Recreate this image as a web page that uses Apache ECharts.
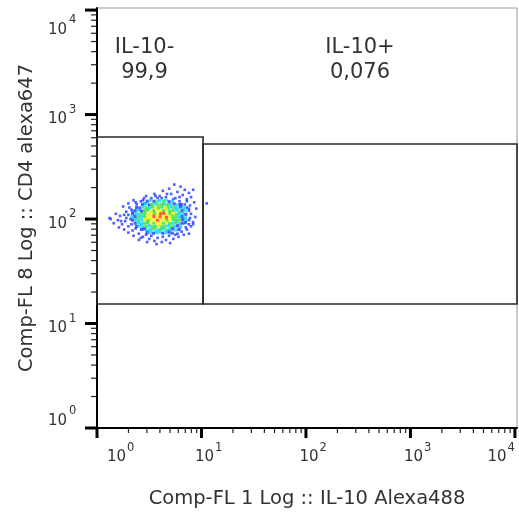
<!DOCTYPE html>
<html><head><meta charset="utf-8">
<script src="https://cdn.jsdelivr.net/npm/echarts@6/dist/echarts.min.js"></script>
<style>html,body{margin:0;padding:0;background:#fff}#c{width:519px;height:515px}</style>
</head><body><div id="c"></div>
<script>
// ---------- data ----------
const xAxisTitle = 'Comp-FL 1 Log :: IL-10 Alexa488';
const yAxisTitle = 'Comp-FL 8 Log :: CD4 alexa647';
const decadeExponents = ['0', '1', '2', '3', '4'];   // tick labels 10^n
const axisMinLog = 0, axisMaxLog = 4.02;              // log10 axis extent

const gateNames = ['IL-10-', 'IL-10+'];
const gateFreqs = ['99,9', '0,076'];
// gate bounds, raw intensity
const gateXMin = [1, 10.35];
const gateXMax = [10.35, 10471];
const gateYMin = [15.4, 15.4];
const gateYMax = [610, 523];
// gate label anchors, raw intensity
const gateLabelX = [2.85, 329];
const gateLabelY = [3360, 3360];

// sparse outer events, [log10 FL1, log10 FL8]
const eventsOuter = [
 [0.74,2.33],[0.80,2.31],[0.69,2.29],[0.84,2.28],[0.63,2.27],[0.77,2.26],[0.88,2.25],[0.55,2.24],[0.71,2.24],[0.82,2.23],
 [0.47,2.22],[0.60,2.22],[0.66,2.21],[0.90,2.21],[0.52,2.20],[0.75,2.20],[0.86,2.19],[0.92,2.28],
 [0.35,2.18],[0.42,2.17],[0.58,2.20],[0.79,2.17],[0.93,2.16],[0.30,2.15],[0.46,2.15],[0.84,2.14],[0.89,2.13],[0.25,2.12],
 [0.38,2.14],[0.95,2.10],[0.33,2.09],[0.86,2.11],[0.88,2.08],[0.28,2.07],
 [0.18,2.05],[0.22,2.03],[0.30,2.04],[0.90,2.05],[0.94,2.02],[0.13,2.00],[0.20,1.99],[0.27,1.98],[0.88,1.99],[0.92,1.97],
 [0.16,1.96],[0.24,1.95],[0.88,1.95],[0.90,1.93],[0.30,1.93],[0.21,1.92],[0.12,2.01],[0.92,1.95],
 [0.26,1.90],[0.34,1.89],[0.86,1.90],[0.81,1.88],[0.30,1.87],[0.40,1.86],[0.88,1.86],[0.35,1.84],[0.83,1.85],[0.44,1.83],
 [0.78,1.83],[0.50,1.81],[0.58,1.82],[0.66,1.80],[0.73,1.81],[0.40,1.80],[0.55,1.79],[0.62,1.78],[0.70,1.77],[0.48,1.78],
 [1.05,2.15],
 [0.32,2.00],[0.37,2.16],[0.45,2.20],[0.67,2.24],[0.73,2.19],[0.81,2.14],[0.89,2.01],[0.85,1.92],[0.77,1.86],[0.63,1.83],
 [0.47,1.85],[0.37,1.91],[0.28,2.01],[0.34,2.07],[0.56,2.22],[0.79,2.21],[0.88,2.10],[0.42,1.82],[0.57,1.76],[0.75,1.85],
 [0.31,2.11],[0.26,2.04],[0.23,1.98],[0.33,1.95],[0.52,1.84],[0.69,1.84],[0.86,2.17],[0.62,2.20],[0.44,2.18]
];

// dense core events, [log10 FL1, log10 FL8, density level 1..5]
const eventsCoreUpper = [
 [0.48,2.17,1],[0.51,2.18,2],[0.545,2.17,1],[0.57,2.165,3],[0.60,2.175,2],[0.635,2.17,3],[0.66,2.18,2],[0.69,2.165,1],[0.72,2.17,2],
 [0.435,2.14,1],[0.465,2.145,2],[0.50,2.135,1],[0.525,2.14,3],[0.555,2.145,2],[0.585,2.135,3],[0.62,2.14,3],[0.645,2.145,2],[0.675,2.135,3],[0.705,2.14,2],[0.74,2.145,1],[0.765,2.135,2],[0.795,2.14,1],
 [0.38,2.11,1],[0.41,2.105,1],[0.44,2.115,2],[0.47,2.11,3],[0.50,2.105,2],[0.53,2.115,3],[0.56,2.11,4],[0.59,2.105,3],[0.62,2.115,3],[0.65,2.11,4],[0.68,2.105,3],[0.71,2.115,2],[0.74,2.11,3],[0.77,2.105,2],[0.80,2.115,1],[0.83,2.11,2],
 [0.365,2.08,1],[0.395,2.085,2],[0.425,2.075,1],[0.455,2.08,3],[0.485,2.085,3],[0.515,2.075,4],[0.545,2.08,3],[0.575,2.085,4],[0.605,2.075,4],[0.635,2.08,3],[0.665,2.085,4],[0.695,2.075,3],[0.725,2.08,3],[0.755,2.085,2],[0.785,2.075,3],[0.815,2.08,1],[0.845,2.085,2],
 [0.34,2.05,1],[0.37,2.055,2],[0.40,2.045,2],[0.43,2.05,3],[0.46,2.055,3],[0.49,2.045,4],[0.52,2.05,4],[0.55,2.055,3],[0.58,2.045,4],[0.61,2.05,5],[0.64,2.055,5],[0.67,2.045,4],[0.70,2.05,3],[0.73,2.055,4],[0.76,2.045,3],[0.79,2.05,2],[0.82,2.055,2],[0.85,2.045,1]
];
const eventsCoreLower = [
 [0.335,2.02,2],[0.365,2.025,1],[0.395,2.015,3],[0.425,2.02,2],[0.455,2.025,3],[0.485,2.015,4],[0.515,2.02,4],[0.545,2.025,5],[0.575,2.015,4],[0.605,2.02,5],[0.635,2.025,4],[0.665,2.015,5],[0.695,2.02,4],[0.725,2.025,3],[0.755,2.015,3],[0.785,2.02,2],[0.815,2.025,1],[0.845,2.015,2],
 [0.34,1.99,1],[0.37,1.995,2],[0.40,1.985,3],[0.43,1.99,2],[0.46,1.995,4],[0.49,1.985,3],[0.52,1.99,4],[0.55,1.995,4],[0.58,1.985,5],[0.61,1.99,4],[0.64,1.995,4],[0.67,1.985,3],[0.70,1.99,4],[0.73,1.995,3],[0.76,1.985,2],[0.79,1.99,3],[0.82,1.995,1],[0.85,1.985,2],
 [0.365,1.96,1],[0.395,1.965,2],[0.425,1.955,2],[0.455,1.96,3],[0.485,1.965,3],[0.515,1.955,4],[0.545,1.96,3],[0.575,1.965,4],[0.605,1.955,4],[0.635,1.96,3],[0.665,1.965,4],[0.695,1.955,3],[0.725,1.96,2],[0.755,1.965,3],[0.785,1.955,2],[0.815,1.96,1],[0.845,1.965,1],
 [0.38,1.93,1],[0.41,1.935,2],[0.44,1.925,2],[0.47,1.93,3],[0.50,1.935,2],[0.53,1.925,3],[0.56,1.93,3],[0.59,1.935,4],[0.62,1.925,3],[0.65,1.93,3],[0.68,1.935,2],[0.71,1.925,3],[0.74,1.93,2],[0.77,1.935,1],[0.80,1.925,2],
 [0.425,1.90,1],[0.455,1.905,1],[0.485,1.895,2],[0.515,1.90,2],[0.545,1.905,3],[0.575,1.895,2],[0.605,1.90,3],[0.635,1.905,2],[0.665,1.895,3],[0.695,1.90,2],[0.725,1.905,1],[0.755,1.895,2],[0.785,1.90,1],
 [0.48,1.87,1],[0.51,1.875,2],[0.54,1.865,1],[0.57,1.87,2],[0.60,1.875,2],[0.63,1.865,1],[0.66,1.87,2],[0.69,1.875,1],[0.72,1.865,1]
];

// ---------- chart ----------
const FONT = 'DejaVu Sans';
const TXT = '#333';
const L = Math.log10;
const densityColors = ['#2038ff', '#00d4ff', '#2ee03a', '#eef000', '#ff3010'];

const majorTicks = decadeExponents.map(Number);
const minorTicks = [];
for (let d = 0; d < 4; d++) for (let m = 2; m <= 9; m++) minorTicks.push(d + L(m));

const chart = echarts.init(document.getElementById('c'));

const measure = (() => {
  const c = document.createElement('canvas').getContext('2d');
  return (t, size) => { c.font = size + 'px "' + FONT + '"'; return c.measureText(t).width; };
})();

const BASE_SIZE = 15, SUP_SIZE = 11.5;

chart.setOption({
  animation: false,
  grid: { left: 97, right: 2, top: 8, bottom: 87, show: true, borderColor: '#9a9a9a', borderWidth: 1 },
  visualMap: {
    show: false, type: 'piecewise', seriesIndex: [1, 2], dimension: 2,
    pieces: densityColors.map((c, i) => ({ value: i + 1, color: c }))
  },
  xAxis: {
    type: 'value', min: axisMinLog, max: axisMaxLog,
    name: xAxisTitle, nameLocation: 'middle', nameGap: 61,
    nameTextStyle: { fontFamily: FONT, fontSize: 19.5, color: TXT },
    axisLine: { onZero: false, lineStyle: { color: '#000', width: 2 } },
    axisTick: { show: false }, axisLabel: { show: false }, splitLine: { show: false }
  },
  yAxis: {
    type: 'value', min: axisMinLog, max: axisMaxLog,
    name: yAxisTitle, nameLocation: 'middle', nameGap: 60,
    nameTextStyle: { fontFamily: FONT, fontSize: 19.5, color: TXT },
    axisLine: { onZero: false, lineStyle: { color: '#000', width: 2 } },
    axisTick: { show: false }, axisLabel: { show: false }, splitLine: { show: false }
  },
  series: [
    { type: 'scatter', data: eventsOuter, symbol: 'rect', symbolSize: 2.6, silent: true,
      itemStyle: { color: densityColors[0] }, z: 2 },
    { type: 'scatter', data: eventsCoreUpper, symbol: 'rect', symbolSize: 3.2, silent: true, z: 2 },
    { type: 'scatter', data: eventsCoreLower, symbol: 'rect', symbolSize: 3.2, silent: true, z: 2 },
    // gates
    {
      type: 'custom', clip: false, z: 3, silent: true,
      encode: { x: [0, 1], y: [2, 3] },
      data: gateNames.map((n, i) => [L(gateXMin[i]), L(gateXMax[i]), L(gateYMin[i]), L(gateYMax[i])]),
      renderItem: (params, api) => {
        const p0 = api.coord([api.value(0), api.value(2)]);
        const p1 = api.coord([api.value(1), api.value(3)]);
        return { type: 'rect',
          shape: { x: p0[0], y: p1[1], width: p1[0] - p0[0], height: p0[1] - p1[1] },
          style: { fill: 'none', stroke: '#2a2a2a', lineWidth: 1.6 } };
      }
    },
    // gate labels
    {
      type: 'custom', clip: false, z: 4, silent: true,
      encode: { x: 0, y: 1 },
      data: gateNames.map((n, i) => [L(gateLabelX[i]), L(gateLabelY[i]), i]),
      renderItem: (params, api) => {
        const p = api.coord([api.value(0), api.value(1)]);
        const i = api.value(2);
        return { type: 'text', x: p[0], y: p[1],
          style: { text: gateNames[i] + '\n' + gateFreqs[i], fill: TXT, font: '21px "' + FONT + '"',
                   align: 'center', verticalAlign: 'middle', lineHeight: 25 } };
      }
    },
    // x ticks
    {
      type: 'custom', clip: false, z: 5, silent: true, encode: { x: 0, y: 1 },
      data: majorTicks.map(v => [v, axisMinLog, 1]).concat(minorTicks.map(v => [v, axisMinLog, 0])),
      renderItem: (params, api) => {
        const p = api.coord([api.value(0), api.value(1)]);
        const major = api.value(2) === 1;
        return { type: 'line', shape: { x1: p[0], y1: p[1], x2: p[0], y2: p[1] + (major ? 10 : 5) },
          style: { stroke: major ? '#000' : '#222', lineWidth: major ? 3 : 1.2 } };
      }
    },
    // y ticks
    {
      type: 'custom', clip: false, z: 5, silent: true, encode: { x: 0, y: 1 },
      data: majorTicks.map(v => [axisMinLog, v, 1]).concat(minorTicks.map(v => [axisMinLog, v, 0])),
      renderItem: (params, api) => {
        const p = api.coord([api.value(0), api.value(1)]);
        const major = api.value(2) === 1;
        return { type: 'line', shape: { x1: p[0] - (major ? 12 : 6), y1: p[1], x2: p[0], y2: p[1] },
          style: { stroke: major ? '#000' : '#222', lineWidth: major ? 3 : 1.2 } };
      }
    },
    // x tick labels
    {
      type: 'custom', clip: false, z: 5, silent: true, encode: { x: 0, y: 1 },
      data: majorTicks.map((v, i) => [v, axisMinLog, i]),
      renderItem: (params, api) => {
        const p = api.coord([api.value(0), api.value(1)]);
        const i = api.value(2);
        const sup = decadeExponents[i];
        const bw = measure('10', BASE_SIZE), sw = measure(sup, SUP_SIZE);
        let baseLeft;
        if (i === 0) baseLeft = p[0] + 10;
        else if (i === decadeExponents.length - 1) baseLeft = p[0] - sw - 1 - bw;
        else baseLeft = p[0] + 3 - bw / 2;
        const by = p[1] + 29;
        return { type: 'group', children: [
          { type: 'text', x: baseLeft, y: by, style: { text: '10', fill: TXT, font: BASE_SIZE + 'px "' + FONT + '"', align: 'left', verticalAlign: 'middle' } },
          { type: 'text', x: baseLeft + bw + 1, y: by - 9, style: { text: sup, fill: TXT, font: SUP_SIZE + 'px "' + FONT + '"', align: 'left', verticalAlign: 'middle' } }
        ] };
      }
    },
    // y tick labels
    {
      type: 'custom', clip: false, z: 5, silent: true, encode: { x: 0, y: 1 },
      data: majorTicks.map((v, i) => [axisMinLog, v, i]),
      renderItem: (params, api) => {
        const p = api.coord([api.value(0), api.value(1)]);
        const i = api.value(2);
        const sup = decadeExponents[i];
        let by;
        if (i === 0) by = p[1] - 7;
        else if (i === decadeExponents.length - 1) by = p[1] + 20;
        else by = p[1] + 5;
        const right = p[0] - 30;
        return { type: 'group', children: [
          { type: 'text', x: right, y: by, style: { text: '10', fill: TXT, font: BASE_SIZE + 'px "' + FONT + '"', align: 'right', verticalAlign: 'middle' } },
          { type: 'text', x: right + 2, y: by - 10, style: { text: sup, fill: TXT, font: SUP_SIZE + 'px "' + FONT + '"', align: 'left', verticalAlign: 'middle' } }
        ] };
      }
    }
  ]
});
</script></body></html>
